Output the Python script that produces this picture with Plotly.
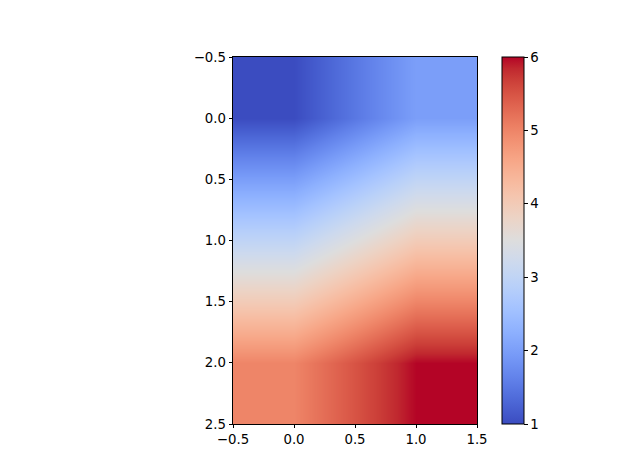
import plotly.graph_objects as go

# data (3 rows x 2 columns)
x_centers = [0, 1]
y_centers = [0, 1, 2]
z_values = [[1, 2],
            [3, 4],
            [5, 6]]

axis_ticks = [-0.5, 0.0, 0.5, 1.0, 1.5]
axis_tick_labels = ["\u22120.5", "0.0", "0.5", "1.0", "1.5"]
yaxis_ticks = [-0.5, 0.0, 0.5, 1.0, 1.5, 2.0, 2.5]
yaxis_tick_labels = ["\u22120.5", "0.0", "0.5", "1.0", "1.5", "2.0", "2.5"]
cbar_ticks = [1, 2, 3, 4, 5, 6]

coolwarm_rgb = [
    (59, 76, 192), (68, 90, 204), (77, 104, 215), (87, 117, 225),
    (98, 130, 234), (108, 142, 241), (119, 154, 247), (130, 165, 251),
    (141, 176, 254), (152, 185, 255), (163, 194, 255), (174, 201, 253),
    (184, 208, 249), (194, 213, 244), (204, 217, 238), (213, 219, 230),
    (221, 221, 221), (229, 216, 209), (236, 211, 197), (241, 204, 185),
    (245, 196, 173), (247, 187, 160), (247, 177, 148), (247, 166, 135),
    (244, 154, 123), (241, 141, 111), (236, 127, 99), (229, 112, 88),
    (222, 96, 77), (213, 80, 66), (203, 62, 56), (192, 40, 47),
    (180, 4, 38),
]
n = len(coolwarm_rgb) - 1
colorscale = [[i / n, "rgb(%d,%d,%d)" % c] for i, c in enumerate(coolwarm_rgb)]

# page body adds an 8px margin; compensate
OFF = 8
W, H = 640 - 2 * OFF, 476 - 2 * OFF
L, R, T, B = 233 - OFF, 477 - OFF, 57 - OFF, 424 - OFF
CB_X = 502 - OFF

fig = go.Figure(go.Heatmap(
    x=x_centers, y=y_centers, z=z_values,
    zmin=1, zmax=6, zsmooth="best",
    colorscale=colorscale,
    colorbar=dict(
        x=(CB_X - L) / (R - L), xanchor="left", xpad=0, ypad=0,
        y=0.5, yanchor="middle", len=1, lenmode="fraction",
        thickness=22, thicknessmode="pixels",
        outlinewidth=1, outlinecolor="black",
        ticks="outside", ticklen=3.5, tickwidth=0.8, tickcolor="black",
        tickvals=cbar_ticks, ticktext=[str(v) for v in cbar_ticks],
        tickfont=dict(family="DejaVu Sans", size=13.3, color="black"),
    ),
))

fig.update_layout(
    width=W, height=H,
    margin=dict(l=L, r=W - R, t=T, b=H - B, pad=0),
    paper_bgcolor="white", plot_bgcolor="white",
    font=dict(family="DejaVu Sans", size=13.3, color="black"),
    xaxis=dict(
        range=[-0.5, 1.5], tickvals=axis_ticks, ticktext=axis_tick_labels,
        ticks="outside", ticklen=3.5, tickwidth=0.8, tickcolor="black",
        showline=True, linecolor="black", linewidth=0.8, mirror=True,
        showgrid=False, zeroline=False,
    ),
    yaxis=dict(
        range=[2.5, -0.5], tickvals=yaxis_ticks, ticktext=yaxis_tick_labels,
        ticks="outside", ticklen=3.5, tickwidth=0.8, tickcolor="black",
        showline=True, linecolor="black", linewidth=0.8, mirror=True,
        showgrid=False, zeroline=False,
    ),
)

fig.write_html("out.html")
